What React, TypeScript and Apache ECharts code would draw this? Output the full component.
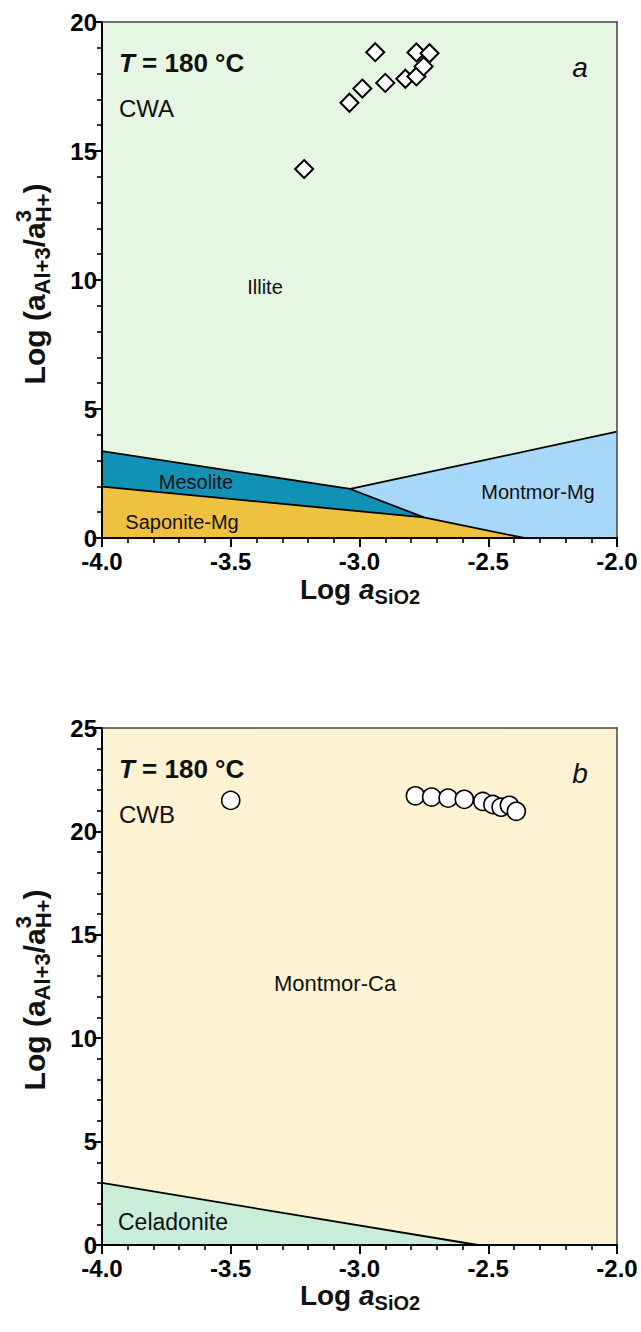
import React, { useEffect, useRef } from "react";
import * as echarts from "echarts";

// ---------- data ----------
const X_MIN = -4;
const X_MAX = -2;
const X_INTERVAL = 0.5;
const TOP_Y_MAX = 20;
const BOT_Y_MAX = 25;
const Y_INTERVAL = 5;

// CWA samples (panel a)
const cwaX = [-3.215, -3.039, -2.989, -2.939, -2.9, -2.822, -2.779, -2.779, -2.751, -2.728];
const cwaY = [14.3, 16.87, 17.42, 18.83, 17.64, 17.8, 17.89, 18.82, 18.28, 18.79];

// CWB samples (panel b)
const cwbX = [-3.5, -2.783, -2.72, -2.656, -2.593, -2.521, -2.482, -2.45, -2.418, -2.391];
const cwbY = [21.5, 21.72, 21.66, 21.61, 21.55, 21.45, 21.3, 21.17, 21.26, 20.97];

// stability fields, panel a
const topRegionNames = ["Illite", "Mesolite", "Saponite-Mg", "Montmor-Mg"];
const topRegionColors = ["#e5f7e2", "#1192b5", "#eec13f", "#a7d7f9"];
const illitePoly = [[-4, 20], [-2, 20], [-2, 4.12], [-3.036, 1.9], [-4, 3.37]];
const mesolitePoly = [[-4, 3.37], [-3.036, 1.9], [-2.75, 0.8], [-4, 1.99]];
const saponitePoly = [[-4, 1.99], [-2.75, 0.8], [-2.36, 0], [-4, 0]];
const montmorMgPoly = [[-3.036, 1.9], [-2, 4.12], [-2, 0], [-2.36, 0], [-2.75, 0.8]];
const topPolys = [illitePoly, mesolitePoly, saponitePoly, montmorMgPoly];

// boundaries, panel a
const topBoundaries = [
  [[-4, 3.37], [-3.036, 1.9], [-2, 4.12]],
  [[-4, 1.99], [-2.75, 0.8]],
  [[-3.036, 1.9], [-2.75, 0.8], [-2.36, 0]],
];

// stability fields, panel b
const botRegionNames = ["Montmor-Ca", "Celadonite"];
const botRegionColors = ["#fdf2d1", "#c8eed9"];
const montmorCaPoly = [[-4, 25], [-2, 25], [-2, 0], [-2.54, 0], [-4, 3.0]];
const celadonitePoly = [[-4, 3.0], [-2.54, 0], [-4, 0]];
const botPolys = [montmorCaPoly, celadonitePoly];
const botBoundaries = [[[-4, 3.0], [-2.54, 0]]];

// ---------- helpers ----------
const FAMILY = '"Liberation Sans", Arial, Helvetica, sans-serif';

let measureCtx: CanvasRenderingContext2D | null = null;
function textWidth(t: string, font: string) {
  if (!measureCtx) measureCtx = document.createElement("canvas").getContext("2d");
  measureCtx!.font = font;
  return measureCtx!.measureText(t).width;
}

type Run = { t: string; size: number; italic?: boolean; bold?: boolean; dy?: number; under?: Run };
function fontOf(r: Run) {
  return `${r.italic ? "italic " : ""}${r.bold === false ? "normal" : "bold"} ${r.size}px ${FAMILY}`;
}
function textEl(x: number, y: number, t: string, font: string, align = "left") {
  return {
    type: "text", x, y, z: 20,
    style: { text: t, font, fill: "#111", textAlign: align, textVerticalAlign: "middle" },
  };
}
function buildRuns(runs: Run[], align: "center" | "left", ox = 0, oy = 0) {
  const widths = runs.map((r) => {
    let w = textWidth(r.t, fontOf(r));
    if (r.under) w = Math.max(w, textWidth(r.under.t, fontOf(r.under)));
    return w;
  });
  const total = widths.reduce((a, b) => a + b, 0);
  let x = (align === "center" ? -total / 2 : 0) + ox;
  const children: any[] = [];
  runs.forEach((r, i) => {
    children.push(textEl(x, oy + (r.dy || 0), r.t, fontOf(r)));
    if (r.under) children.push(textEl(x, oy + (r.under.dy || 0), r.under.t, fontOf(r.under)));
    x += widths[i];
  });
  return children;
}

function regionRenderer(polys: number[][][], colors: string[]) {
  return (params: any, api: any) => {
    const idx = params.dataIndex;
    const pts = polys[idx].map((p) => api.coord(p));
    return { type: "polygon", shape: { points: pts }, style: { fill: colors[idx] }, silent: true };
  };
}

function axes(gridIndex: number, yMax: number) {
  const label = { fontSize: 24, lineHeight: 20, fontWeight: "bold", color: "#000", fontFamily: FAMILY };
  const xMain = {
    gridIndex, type: "value", min: X_MIN, max: X_MAX, interval: X_INTERVAL, position: "bottom", z: 10,
    axisLine: { show: true, onZero: false, lineStyle: { color: "#000", width: 2 } },
    axisTick: { show: true, length: 9, lineStyle: { color: "#000", width: 2 } },
    minorTick: { show: true, splitNumber: 5, length: 5, lineStyle: { color: "#000", width: 1.6 } },
    splitLine: { show: false },
    axisLabel: { ...label, margin: 13, showMinLabel: true, showMaxLabel: true, formatter: (v: number) => v.toFixed(1) },
  };
  const xTop = {
    gridIndex, type: "value", min: X_MIN, max: X_MAX, position: "top", z: 10,
    axisLine: { show: true, onZero: false, lineStyle: { color: "#444", width: 1.5 } },
    axisTick: { show: false }, axisLabel: { show: false }, splitLine: { show: false },
  };
  const yMain = {
    gridIndex, type: "value", min: 0, max: yMax, interval: Y_INTERVAL, position: "left", z: 10,
    axisLine: { show: true, onZero: false, lineStyle: { color: "#000", width: 2 } },
    axisTick: { show: true, length: 9, lineStyle: { color: "#000", width: 2 } },
    minorTick: { show: true, splitNumber: 5, length: 5, lineStyle: { color: "#000", width: 1.6 } },
    splitLine: { show: false },
    axisLabel: { ...label, margin: 5, showMinLabel: true, showMaxLabel: true },
  };
  const yRight = {
    gridIndex, type: "value", min: 0, max: yMax, position: "right", z: 10,
    axisLine: { show: true, onZero: false, lineStyle: { color: "#444", width: 1.5 } },
    axisTick: { show: false }, axisLabel: { show: false }, splitLine: { show: false },
  };
  return { x: [xMain, xTop], y: [yMain, yRight] };
}

function panelSeries(
  xAxisIndex: number, yAxisIndex: number, polys: number[][][], colors: string[], names: string[],
  boundaries: number[][][], px: number[], py: number[], symbol: string, symbolSize: number, borderWidth: number
) {
  const s: any[] = [];
  s.push({
    type: "custom", xAxisIndex, yAxisIndex, silent: true, z: 1,
    renderItem: regionRenderer(polys, colors),
    data: polys.map((p, i) => ({ name: names[i], value: [p[0][0], p[0][1], i] })),
  });
  boundaries.forEach((b) => {
    s.push({
      type: "line", xAxisIndex, yAxisIndex, silent: true, z: 3, symbol: "none",
      lineStyle: { color: "#000", width: 1.8 }, data: b,
    });
  });
  s.push({
    type: "scatter", xAxisIndex, yAxisIndex, z: 5, symbol, symbolSize,
    itemStyle: { color: "#fff", borderColor: "#000", borderWidth, opacity: 1 },
    data: px.map((x, i) => [x, py[i]]),
  });
  return s;
}

function txt(x: number, y: number, t: string, size: number, opts: any = {}) {
  return textEl(x, y, t, `${opts.italic ? "italic " : ""}${opts.bold ? "bold" : "normal"} ${size}px ${FAMILY}`, opts.align || "left");
}

function panelGraphics(dy: number, letter: string, sample: string) {
  const xTitle = buildRuns([
    { t: "Log ", size: 28 },
    { t: "a", size: 28, italic: true },
    { t: "SiO2", size: 20, dy: 8 },
  ], "center", 360, 589 + dy);
  const yTitle = {
    type: "group", x: 34, y: 284 + dy, rotation: Math.PI / 2, z: 20,
    children: buildRuns([
      { t: "Log (", size: 30 },
      { t: "a", size: 30 },
      { t: "Al+3", size: 22, dy: 8 },
      { t: "/", size: 30 },
      { t: "a", size: 30 },
      { t: "3", size: 22, dy: -11, under: { t: "H+", size: 22, dy: 9 } },
      { t: ")", size: 30 },
    ], "center"),
  };
  const tLabel = buildRuns([
    { t: "T", size: 26, italic: true },
    { t: " = 180 °C", size: 26 },
  ], "left", 119, 63 + dy);
  return [
    ...xTitle, yTitle, ...tLabel,
    txt(119, 108 + dy, sample, 24),
    txt(580, 67 + dy, letter, 28, { italic: true, align: "center" }),
  ];
}

export default function App() {
  const ref = useRef<HTMLDivElement>(null);
  useEffect(() => {
    document.body.style.margin = "0";
    const chart = echarts.init(ref.current!, null, { renderer: "svg" });
    const a = axes(0, TOP_Y_MAX);
    const b = axes(1, BOT_Y_MAX);
    const option: any = {
      animation: false,
      backgroundColor: "#ffffff",
      grid: [
        { left: 102, top: 22, width: 515, height: 516 },
        { left: 102, top: 728, width: 515, height: 517 },
      ],
      xAxis: [...a.x, ...b.x],
      yAxis: [...a.y, ...b.y],
      series: [
        ...panelSeries(0, 0, topPolys, topRegionColors, topRegionNames, topBoundaries, cwaX, cwaY, "diamond", 18, 2),
        ...panelSeries(2, 2, botPolys, botRegionColors, botRegionNames, botBoundaries, cwbX, cwbY, "circle", 18, 1.6),
      ],
      graphic: [
        ...panelGraphics(0, "a", "CWA"),
        ...panelGraphics(706, "b", "CWB"),
        txt(265, 287, "Illite", 20, { align: "center" }),
        txt(196, 482, "Mesolite", 20, { align: "center" }),
        txt(182, 522, "Saponite-Mg", 20, { align: "center" }),
        txt(538, 492, "Montmor-Mg", 20, { align: "center" }),
        txt(335, 983, "Montmor-Ca", 22, { align: "center" }),
        txt(118, 1222, "Celadonite", 23),
      ],
    };
    chart.setOption(option);
    return () => chart.dispose();
  }, []);
  return <div ref={ref} style={{ width: 641, height: 1332 }} />;
}
